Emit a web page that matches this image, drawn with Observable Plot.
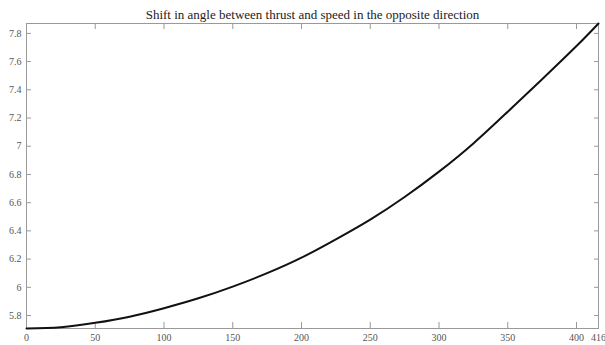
<!DOCTYPE html>
<html><head><meta charset="utf-8">
<script src="https://cdn.jsdelivr.net/npm/d3@7"></script>
<script src="https://cdn.jsdelivr.net/npm/@observablehq/plot@0.6"></script>
<style>body{margin:0;background:#fff}</style>
</head><body><div id="chart"></div>
<script>
const title = "Shift in angle between thrust and speed in the opposite direction";
const xs = [0, 25, 50, 75, 100, 125, 150, 175, 200, 225, 250, 275, 300, 325, 350, 375, 400, 416];
const ys = [5.708, 5.717, 5.748, 5.792, 5.852, 5.922, 6.005, 6.10, 6.21, 6.34, 6.48, 6.64, 6.82, 7.02, 7.245, 7.475, 7.71, 7.87];
const xTicks = [0, 50, 100, 150, 200, 250, 300, 350, 400, 416];
const yTicks = [5.8, 6, 6.2, 6.4, 6.6, 6.8, 7, 7.2, 7.4, 7.6, 7.8];
const data = xs.map((x, i) => ({x, y: ys[i]}));
const font = "Liberation Serif, Times New Roman, serif";
const plot = Plot.plot({
  width: 605, height: 345,
  marginTop: 23, marginBottom: 17, marginLeft: 26, marginRight: 7,
  style: {fontFamily: font, fontSize: "10px", color: "#555", background: "#fff"},
  x: {domain: [0, 416]},
  y: {domain: [5.708, 7.87]},
  marks: [
    Plot.frame({stroke: "#999"}),
    Plot.axisX(xTicks, {anchor: "bottom", tickSize: -6, tickFormat: () => "", stroke: "#999", label: null}),
    Plot.axisX(xTicks, {anchor: "top", tickSize: -5, tickFormat: () => "", stroke: "#999", label: null}),
    Plot.axisX(xTicks, {anchor: "bottom", tickSize: 0, tickPadding: 5, label: null, fill: "#555", tickFormat: d => String(d)}),
    Plot.axisY(yTicks, {anchor: "left", tickSize: -5, tickFormat: () => "", stroke: "#999", label: null}),
    Plot.axisY(yTicks, {anchor: "right", tickSize: -5, tickFormat: () => "", stroke: "#999", label: null}),
    Plot.axisY(yTicks, {anchor: "left", tickSize: 0, tickPadding: 5, label: null, fill: "#555", tickFormat: d => String(d)}),
    Plot.line(data, {x: "x", y: "y", stroke: "#111", strokeWidth: 2, curve: "natural"}),
    Plot.text([title], {frameAnchor: "top", lineAnchor: "bottom", dy: -5, text: d => d, fontSize: 13, fill: "#222", fontFamily: font})
  ]
});
document.getElementById("chart").append(plot);
</script></body></html>
